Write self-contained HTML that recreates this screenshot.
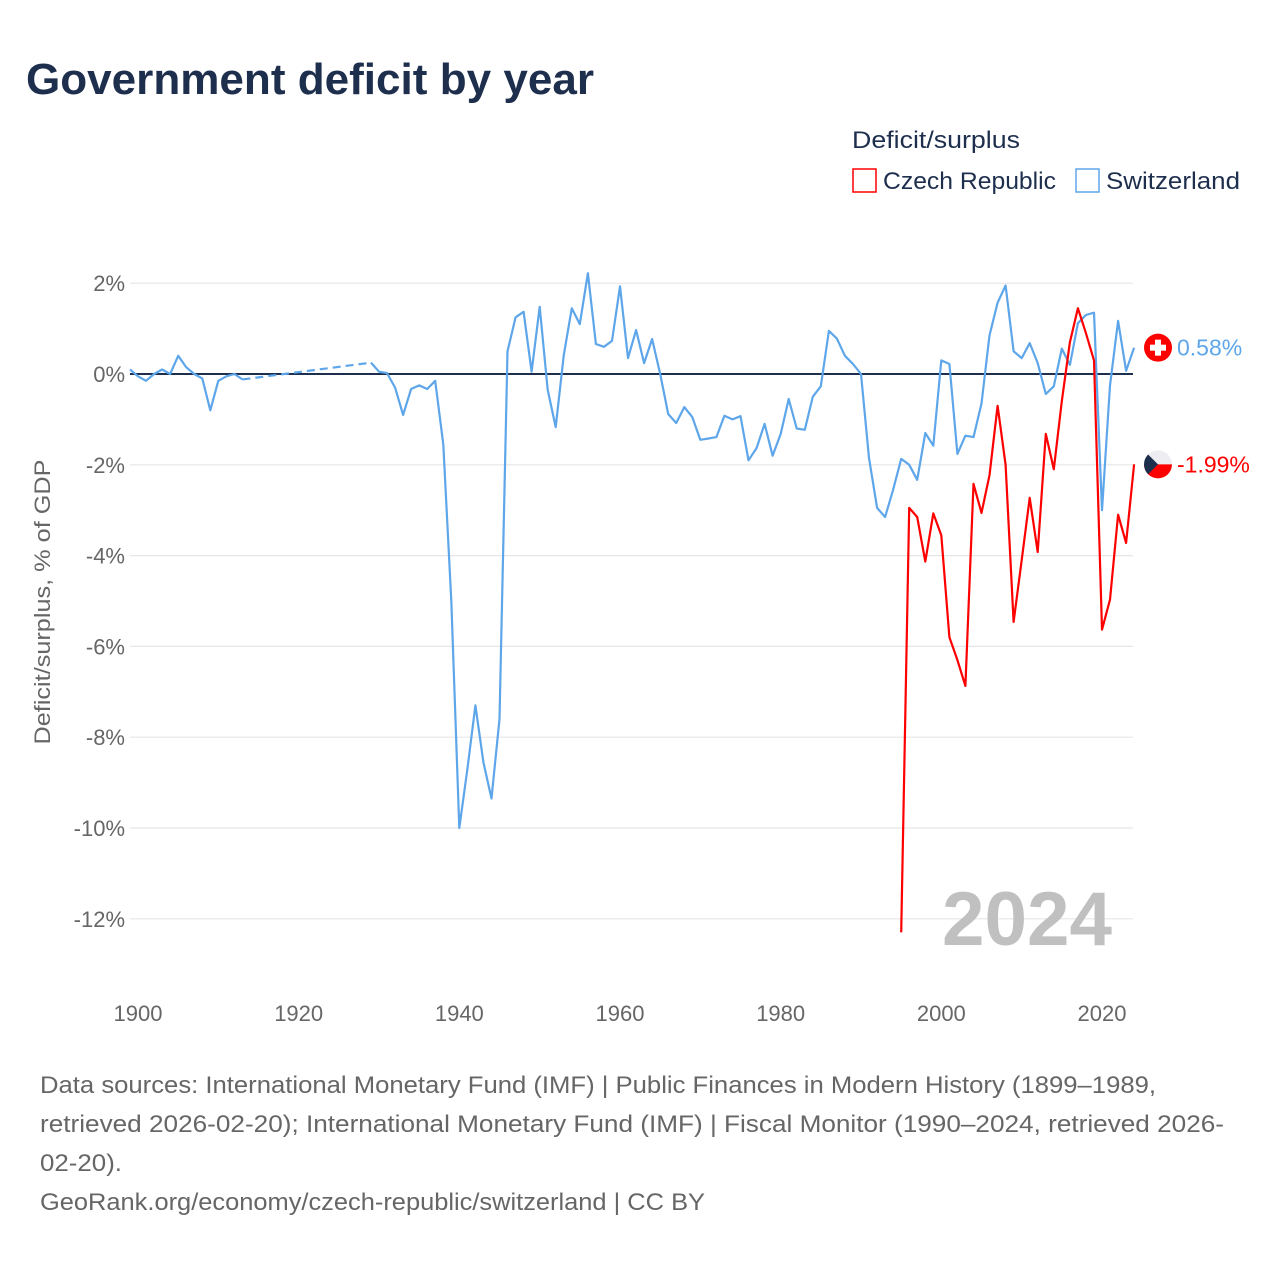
<!DOCTYPE html>
<html><head><meta charset="utf-8">
<style>
html,body{margin:0;padding:0;background:#fff;}
svg{display:block;font-family:"Liberation Sans",sans-serif;}
</style></head>
<body>
<svg id="chart" width="1280" height="1280" viewBox="0 0 1280 1280">
<text x="26" y="94" font-size="44" font-weight="bold" fill="#1e2f4e" textLength="568" lengthAdjust="spacingAndGlyphs">Government deficit by year</text>
<g>
<text x="852" y="148" font-size="24" fill="#1e2f4e" textLength="168" lengthAdjust="spacingAndGlyphs">Deficit/surplus</text>
<g>
<rect x="853" y="169" width="23" height="23" fill="none" stroke="#ff0000" stroke-width="1.5"/>
<text x="883" y="189" font-size="24" fill="#1e2f4e" textLength="173" lengthAdjust="spacingAndGlyphs">Czech Republic</text>
</g>
<g>
<rect x="1076" y="169" width="23" height="23" fill="none" stroke="#5ea6ea" stroke-width="1.5"/>
<text x="1106" y="189" font-size="24" fill="#1e2f4e" textLength="134" lengthAdjust="spacingAndGlyphs">Switzerland</text>
</g>
</g>
<text transform="translate(50,602) rotate(-90)" text-anchor="middle" font-size="22" fill="#666" textLength="285" lengthAdjust="spacingAndGlyphs">Deficit/surplus, % of GDP</text>
<g id="grid"></g>
<text x="1112" y="945" text-anchor="end" font-size="76" font-weight="bold" fill="#c0c0c0" textLength="170" lengthAdjust="spacingAndGlyphs">2024</text>
<g id="series"></g>
<g id="ends"></g>
<g font-size="24" fill="#666">
<text x="40" y="1093" textLength="1116" lengthAdjust="spacingAndGlyphs">Data sources: International Monetary Fund (IMF) | Public Finances in Modern History (1899–1989,</text>
<text x="40" y="1132" textLength="1184" lengthAdjust="spacingAndGlyphs">retrieved 2026-02-20); International Monetary Fund (IMF) | Fiscal Monitor (1990–2024, retrieved 2026-</text>
<text x="40" y="1171" textLength="82" lengthAdjust="spacingAndGlyphs">02-20).</text>
<text x="40" y="1210" textLength="665" lengthAdjust="spacingAndGlyphs">GeoRank.org/economy/czech-republic/switzerland | CC BY</text>
</g>
</svg>
<script>
const yTicks = [2, 0, -2, -4, -6, -8, -10, -12];
const xTicks = [1900, 1920, 1940, 1960, 1980, 2000, 2020];
const swissYearsA = [1899,1900,1901,1902,1903,1904,1905,1906,1907,1908,1909,1910,1911,1912,1913];
const swissValsA = [0.1,-0.05,-0.15,0.0,0.1,0.0,0.4,0.15,0.0,-0.1,-0.8,-0.15,-0.05,0.0,-0.12];
const swissYearsB = [1929,1930,1931,1932,1933,1934,1935,1936,1937,1938,1939,1940,1941,1942,1943,1944,1945,1946,1947,1948,1949,1950,1951,1952,1953,1954,1955,1956,1957,1958,1959,1960,1961,1962,1963,1964,1965,1966,1967,1968,1969,1970,1971,1972,1973,1974,1975,1976,1977,1978,1979,1980,1981,1982,1983,1984,1985,1986,1987,1988,1989,1990,1991,1992,1993,1994,1995,1996,1997,1998,1999,2000,2001,2002,2003,2004,2005,2006,2007,2008,2009,2010,2011,2012,2013,2014,2015,2016,2017,2018,2019,2020,2021,2022,2023,2024];
const swissValsB = [0.25,0.05,0.02,-0.3,-0.9,-0.33,-0.25,-0.33,-0.15,-1.55,-5.0,-10.0,-8.7,-7.3,-8.55,-9.35,-7.6,0.5,1.25,1.37,0.05,1.48,-0.35,-1.17,0.42,1.45,1.1,2.22,0.66,0.6,0.73,1.93,0.35,0.97,0.24,0.77,0.0,-0.88,-1.08,-0.73,-0.95,-1.45,-1.42,-1.39,-0.92,-1.0,-0.93,-1.9,-1.63,-1.1,-1.8,-1.32,-0.55,-1.2,-1.23,-0.5,-0.27,0.95,0.78,0.4,0.22,0.0,-1.85,-2.95,-3.15,-2.55,-1.87,-2.0,-2.33,-1.3,-1.58,0.3,0.22,-1.76,-1.36,-1.39,-0.65,0.85,1.57,1.95,0.5,0.35,0.68,0.24,-0.44,-0.27,0.56,0.2,1.12,1.3,1.35,-3.0,-0.25,1.17,0.07,0.58];
const czechYears = [1995,1996,1997,1998,1999,2000,2001,2002,2003,2004,2005,2006,2007,2008,2009,2010,2011,2012,2013,2014,2015,2016,2017,2018,2019,2020,2021,2022,2023,2024];
const czechVals = [-12.3,-2.95,-3.15,-4.13,-3.07,-3.55,-5.8,-6.3,-6.87,-2.42,-3.06,-2.23,-0.7,-2.0,-5.46,-4.1,-2.73,-3.92,-1.32,-2.1,-0.6,0.7,1.45,0.9,0.3,-5.63,-4.97,-3.1,-3.72,-1.99];

const NS = 'http://www.w3.org/2000/svg';
const X = yr => 138 + (yr - 1900) * (964 / 120);
const Y = v => 374 - v * 45.4;
function mk(tag, attrs, parent) {
  const e = document.createElementNS(NS, tag);
  for (const k in attrs) e.setAttribute(k, attrs[k]);
  parent.appendChild(e);
  return e;
}
const grid = document.getElementById('grid');
yTicks.forEach(v => {
  const l = mk('line', {x1: 130, x2: 1133, y1: Y(v), y2: Y(v), stroke: v === 0 ? '#1e2f4e' : '#e6e6e6', 'stroke-width': v === 0 ? 2 : 1.2}, grid);
  
  
  const t = mk('text', {x: 125, y: Y(v) + 8, 'text-anchor': 'end', 'font-size': 22, fill: '#666'}, grid);
  t.textContent = v + '%';
  
  
});
xTicks.forEach(yr => {
  const t = mk('text', {x: X(yr), y: 1021, 'text-anchor': 'middle', 'font-size': 22, fill: '#666'}, grid);
  t.textContent = yr;
  
  
});
const series = document.getElementById('series');
function pts(ys, vs) { return ys.map((y, i) => X(y).toFixed(1) + ',' + Y(vs[i]).toFixed(1)).join(' '); }
const sa = mk('polyline', {points: pts(swissYearsA, swissValsA), fill: 'none', stroke: '#5ea6ea', 'stroke-width': 2.2, 'stroke-linejoin': 'round'}, series);


const gap = mk('line', {x1: X(1913), y1: Y(swissValsA[swissValsA.length - 1]), x2: X(1929), y2: Y(swissValsB[0]), stroke: '#5ea6ea', 'stroke-width': 2.2, 'stroke-dasharray': '8,5'}, series);


const sb = mk('polyline', {points: pts(swissYearsB, swissValsB), fill: 'none', stroke: '#5ea6ea', 'stroke-width': 2.2, 'stroke-linejoin': 'round'}, series);


const cz = mk('polyline', {points: pts(czechYears, czechVals), fill: 'none', stroke: '#ff0000', 'stroke-width': 2.2, 'stroke-linejoin': 'round'}, series);



const ends = document.getElementById('ends');
const swLast = swissValsB[swissValsB.length - 1], czLast = czechVals[czechVals.length - 1];
const sy = Y(swLast), cy = Y(czLast);
const swf = mk('g', {}, ends);


mk('circle', {cx: 1158, cy: sy, r: 14, fill: '#ff0000'}, swf);
mk('rect', {x: 1155, y: sy - 8, width: 6, height: 16, fill: '#fff'}, swf);
mk('rect', {x: 1150, y: sy - 3, width: 16, height: 6, fill: '#fff'}, swf);
const swl = mk('text', {x: 1177, y: sy + 8, 'font-size': 23, fill: '#5ea6ea'}, ends);
swl.textContent = swLast.toFixed(2) + '%';


const czf = mk('g', {}, ends);


mk('circle', {cx: 1158, cy: cy, r: 14, fill: '#eeeef2'}, czf);
mk('path', {d: `M1144,${cy} L1172,${cy} A14,14 0 0 1 1144,${cy} Z`, fill: '#ff0000'}, czf);
mk('path', {d: `M1148.1,${cy - 9.9} L1158,${cy} L1148.1,${cy + 9.9} A14,14 0 0 1 1148.1,${cy - 9.9} Z`, fill: '#1e2f4e'}, czf);
const czl = mk('text', {x: 1177, y: cy + 8, 'font-size': 23, fill: '#ff0000'}, ends);
czl.textContent = czLast.toFixed(2) + '%';


</script>
</body></html>
